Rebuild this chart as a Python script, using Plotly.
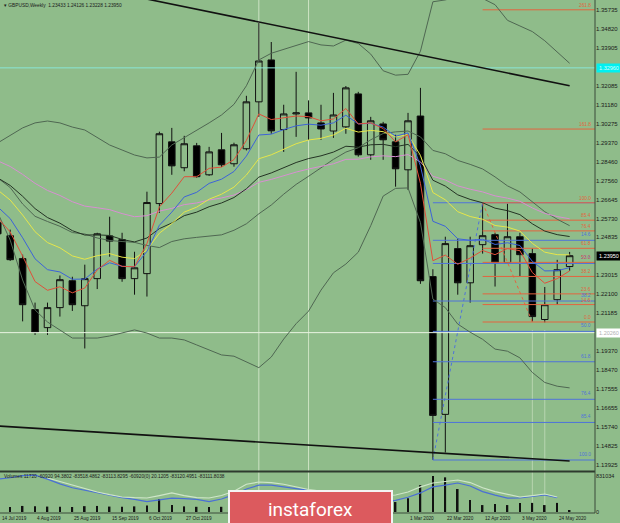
import pandas as pd
import plotly.graph_objects as go

BG = "#8fbc8a"
FONT = "Liberation Sans, Arial, sans-serif"

# ---------------- data ----------------
weeks = pd.date_range("2019-07-14", periods=47, freq="7D")

opens = [1.2553, 1.2491, 1.2381, 1.2137, 1.2050, 1.2146, 1.2275, 1.2155, 1.2285, 1.2490, 1.2472, 1.2285,
         1.2309, 1.2645, 1.2941, 1.2817, 1.2922, 1.2783, 1.2903, 1.2836, 1.2908, 1.3133, 1.3334, 1.3000,
         1.3075, 1.3080, 1.3032, 1.2993, 1.3013, 1.3171, 1.2879, 1.3027, 1.2941, 1.2807,
         1.3065, 1.2295, 1.1634, 1.2429, 1.2265, 1.2448, 1.2496, 1.2361, 1.2486, 1.2405, 1.2089, 1.2184, 1.2343]
highs = [1.2580, 1.2520, 1.2400, 1.2170, 1.2170, 1.2300, 1.2294, 1.2352, 1.2505, 1.2582, 1.2505, 1.2414,
         1.2702, 1.2990, 1.3008, 1.2970, 1.2936, 1.2917, 1.2984, 1.2937, 1.3162, 1.3511, 1.3420, 1.3119,
         1.3277, 1.3140, 1.3119, 1.3176, 1.3209, 1.3181, 1.3061, 1.3037, 1.2975, 1.3080,
         1.3200, 1.2330, 1.2486, 1.2477, 1.2486, 1.2649, 1.2505, 1.2644, 1.2505, 1.2430, 1.2245, 1.2375, 1.2413]
lows = [1.2385, 1.2370, 1.2080, 1.2015, 1.2015, 1.2103, 1.2130, 1.1950, 1.2235, 1.2390, 1.2270, 1.2208,
        1.2199, 1.2600, 1.2783, 1.2800, 1.2769, 1.2778, 1.2821, 1.2822, 1.2900, 1.3061, 1.2980, 1.2893,
        1.2965, 1.2950, 1.2951, 1.2960, 1.2980, 1.2870, 1.2855, 1.2855, 1.2726, 1.2711,
        1.2260, 1.1415, 1.1451, 1.2208, 1.2170, 1.2405, 1.2247, 1.2357, 1.2295, 1.2079, 1.2075, 1.2160, 1.2323]
closes = [1.2500, 1.2376, 1.2160, 1.2027, 1.2146, 1.2280, 1.2160, 1.2285, 1.2500, 1.2465, 1.2285, 1.2337,
          1.2650, 1.2980, 1.2826, 1.2932, 1.2774, 1.2893, 1.2831, 1.2927, 1.3133, 1.3329, 1.2994, 1.3075,
          1.3080, 1.3056, 1.3003, 1.3070, 1.3200, 1.2879, 1.3042, 1.2951, 1.2812, 1.3042,
          1.2275, 1.1629, 1.2453, 1.2265, 1.2443, 1.2491, 1.2361, 1.2486, 1.2400, 1.2103, 1.2160, 1.2328, 1.2395]

ma_red = [1.2576, 1.2509, 1.2393, 1.2271, 1.2229, 1.2246, 1.2217, 1.2240, 1.2327, 1.2373, 1.2344, 1.2342,
          1.2453, 1.2629, 1.2695, 1.2774, 1.2774, 1.2814, 1.2820, 1.2856, 1.2948, 1.3075, 1.3048, 1.3057,
          1.3065, 1.3062, 1.3042, 1.3051, 1.3101, 1.3027, 1.3032, 1.3005, 1.2941, 1.2975,
          1.2742, 1.2371, 1.2398, 1.2354, 1.2384, 1.2420, 1.2400, 1.2429, 1.2419, 1.2314, 1.2263, 1.2285, 1.2322]
ma_blue = [1.2629, 1.2573, 1.2481, 1.2380, 1.2328, 1.2317, 1.2282, 1.2283, 1.2331, 1.2361, 1.2344, 1.2342,
           1.2416, 1.2541, 1.2604, 1.2677, 1.2699, 1.2742, 1.2762, 1.2799, 1.2873, 1.2974, 1.2978, 1.3000,
           1.3018, 1.3026, 1.3021, 1.3032, 1.3069, 1.3027, 1.3030, 1.3012, 1.2968, 1.2984,
           1.2826, 1.2560, 1.2536, 1.2476, 1.2469, 1.2474, 1.2449, 1.2457, 1.2444, 1.2368, 1.2322, 1.2323, 1.2338]
ma_yellow = [1.2710, 1.2662, 1.2590, 1.2510, 1.2458, 1.2433, 1.2394, 1.2378, 1.2395, 1.2405, 1.2388, 1.2381,
             1.2423, 1.2503, 1.2549, 1.2604, 1.2628, 1.2666, 1.2690, 1.2724, 1.2782, 1.2860, 1.2879, 1.2907,
             1.2932, 1.2950, 1.2958, 1.2974, 1.3006, 1.2988, 1.2996, 1.2990, 1.2965, 1.2976,
             1.2876, 1.2698, 1.2663, 1.2606, 1.2583, 1.2570, 1.2540, 1.2532, 1.2513, 1.2454, 1.2412, 1.2400, 1.2399]
ma_dark = [1.2768, 1.2732, 1.2680, 1.2621, 1.2578, 1.2551, 1.2515, 1.2494, 1.2495, 1.2492, 1.2473, 1.2461,
           1.2480, 1.2525, 1.2552, 1.2587, 1.2604, 1.2630, 1.2648, 1.2674, 1.2716, 1.2772, 1.2792, 1.2818,
           1.2842, 1.2861, 1.2874, 1.2892, 1.2920, 1.2916, 1.2927, 1.2929, 1.2918, 1.2929,
           1.2870, 1.2757, 1.2729, 1.2687, 1.2665, 1.2649, 1.2623, 1.2611, 1.2592, 1.2548, 1.2513, 1.2496, 1.2487]
ma_pink = [1.2850, 1.2823, 1.2785, 1.2742, 1.2708, 1.2684, 1.2654, 1.2633, 1.2625, 1.2616, 1.2597, 1.2582,
           1.2587, 1.2609, 1.2622, 1.2640, 1.2648, 1.2662, 1.2672, 1.2686, 1.2712, 1.2747, 1.2761, 1.2779,
           1.2796, 1.2811, 1.2822, 1.2836, 1.2857, 1.2858, 1.2869, 1.2874, 1.2870, 1.2880,
           1.2845, 1.2776, 1.2758, 1.2730, 1.2714, 1.2701, 1.2682, 1.2671, 1.2656, 1.2624, 1.2598, 1.2583, 1.2572]

band_upper = [1.2936, 1.2974, 1.3008, 1.3032, 1.3041, 1.3032, 1.3012, 1.2998, 1.2960, 1.2926, 1.2902, 1.2878,
              1.2864, 1.2868, 1.2926, 1.2960, 1.2998, 1.3032, 1.3070,
              1.3121, 1.3210, 1.3334, 1.3366, 1.3385, 1.3404, 1.3422, 1.3406, 1.3401, 1.3429, 1.3413, 1.3362,
              1.3282, 1.3261, 1.3265, 1.3376, 1.3613, 1.3622, 1.3638, 1.3638, 1.3629, 1.3599, 1.3524, 1.3497,
              1.3470, 1.3426, 1.3370, 1.3318]
band_middle = [1.2768, 1.2722, 1.2643, 1.2584, 1.2559, 1.2536, 1.2506, 1.2499, 1.2480, 1.2468, 1.2463, 1.2459,
               1.2444, 1.2434, 1.2463, 1.2476, 1.2483, 1.2488, 1.2495,
               1.2517, 1.2548, 1.2596, 1.2638, 1.2690, 1.2737, 1.2776, 1.2818, 1.2857, 1.2892, 1.2913, 1.2951,
               1.2981, 1.2989, 1.2993, 1.2965, 1.2900, 1.2884, 1.2852, 1.2833, 1.2811, 1.2773, 1.2730, 1.2701,
               1.2652, 1.2606, 1.2570, 1.2539]
band_lower = [1.2600, 1.2470, 1.2278, 1.2135, 1.2077, 1.2039, 1.2000, 1.2000, 1.2000, 1.2010, 1.2024, 1.2039,
              1.2024, 1.2000, 1.2000, 1.1991, 1.1967, 1.1943, 1.1919,
              1.1913, 1.1887, 1.1858, 1.1909, 1.1995, 1.2069, 1.2129, 1.2230, 1.2313, 1.2355, 1.2412, 1.2539,
              1.2681, 1.2718, 1.2720, 1.2554, 1.2187, 1.2146, 1.2067, 1.2028, 1.1994, 1.1947, 1.1937, 1.1905,
              1.1835, 1.1787, 1.1769, 1.1761]

volumes = [120000, 115000, 140000, 135000, 125000, 120000, 115000, 135000, 140000, 125000, 120000, 130000,
           150000, 300000, 160000, 130000, 120000, 115000, 120000, 110000, 150000, 230000, 180000, 90000,
           110000, 140000, 130000, 120000, 150000, 140000, 130000, 115000, 230000, 320000,
           620000, 831034, 800000, 530000, 275000, 160000, 185000, 160000, 210000, 210000, 160000, 210000, 30000]
vol_line_blue = [760000, 790000, 840000, 850000, 760000, 650000, 560000, 500000, 450000, 390000, 330000, 290000,
                 240000, 280000, 320000, 310000, 290000, 240000, 300000, 400000, 530000, 620000, 620000, 580000,
                 540000, 500000, 440000, 380000, 320000, 260000, 230000, 230000, 270000, 340000,
                 440000, 580000, 620000, 669000, 600000, 470000, 390000, 320000, 323000, 360000, 392000, 330000]
vol_line_pale = [785000, 700000, 620000, 540000, 462000, 400000, 346000, 330000,
                 323000, 380000, 439000, 380000, 330000, 323000, 380000, 480000, 640000, 692000, 680000, 640000,
                 577000, 520000, 480000, 440000, 400000, 360000, 340000, 360000, 392000, 462000,
                 580000, 669000, 700000, 739000, 680000, 560000, 470000, 400000, 346000, 380000, 415000, 346000]

price_ticks = [1.35735, 1.34820, 1.33905, 1.32085, 1.31180, 1.30275, 1.29370, 1.28460, 1.27560, 1.26645,
               1.25730, 1.24835, 1.23015, 1.22100, 1.21185, 1.19370, 1.18470, 1.17555, 1.16655, 1.15740,
               1.14825, 1.13925]

fib_ratios = [0.0, 14.6, 23.6, 38.2, 50.0, 61.8, 76.4, 85.4, 100.0, 161.8, 261.8]
red_fib = {"start": "2020-04-12", "end": "2020-05-10", "p100": 1.2649, "p0": 1.2077}
blue_fib = {"start": "2020-03-15", "end": "2020-04-12", "p100": 1.1415, "p0": 1.2649}

upper_trend_dates = ["2019-10-06", "2020-05-31"]
upper_trend_prices = [1.3626, 1.3210]
lower_trend_dates = ["2019-07-14", "2020-05-31"]
lower_trend_prices = [1.1578, 1.1410]

cyan_level = 1.3296
white_level = 1.2026
last_price = 1.2395
marker_weeks = ["2019-12-08", "2020-01-05"]
lower_marker_weeks = ["2020-05-10", "2020-05-17"]

date_labels = [("2019-07-14", "14 Jul 2019"), ("2019-08-04", "4 Aug 2019"), ("2019-08-25", "25 Aug 2019"),
               ("2019-09-15", "15 Sep 2019"), ("2019-10-06", "6 Oct 2019"), ("2019-10-27", "27 Oct 2019"),
               ("2020-03-01", "1 Mar 2020"), ("2020-03-22", "22 Mar 2020"), ("2020-04-12", "12 Apr 2020"),
               ("2020-05-03", "3 May 2020"), ("2020-05-24", "24 May 2020")]

header_text = "GBPUSD,Weekly  1.23433 1.24126 1.23228 1.23950"
volume_text = "Volumes 11720 -60920 94.3802 -83518.4862 -83113.8295 -60920(0) 20.1205 -83120.4951 -83111.8038"

# ---------------- layout geometry ----------------
PW, PH = 595.0, 513.0          # plot area in px
def py(v):                      # px (from top) -> paper y
    return (PH - v) / PH
def pxx(v):
    return v / PW

base = pd.Timestamp("2020-03-01")
x_range = [base + pd.Timedelta(days=-32.82 * 7), base + pd.Timedelta(days=15.04 * 7)]
far_right = base + pd.Timedelta(days=20 * 7)

fig = go.Figure()

# horizontal reference lines
for lvl, col in [(cyan_level, "#8ae6d6"), (white_level, "#e9f3e2")]:
    fig.add_trace(go.Scatter(x=[x_range[0], far_right], y=[lvl, lvl], mode="lines",
                             line=dict(color=col, width=1), hoverinfo="skip"))

# fib levels (background)
def fib_price(f, r):
    return f["p0"] + (f["p100"] - f["p0"]) * r / 100.0

for f, col, ratios in [(blue_fib, "#4f73d9", fib_ratios[:9]), (red_fib, "#e3643f", fib_ratios)]:
    for r in ratios:
        p = fib_price(f, r)
        fig.add_trace(go.Scatter(x=[f["start"], far_right], y=[p, p], mode="lines",
                                 line=dict(color=col, width=1), hoverinfo="skip"))
    fig.add_trace(go.Scatter(x=[f["start"], f["end"]], y=[f["p100"], f["p0"]], mode="lines",
                             line=dict(color=col, width=1, dash="dot"), hoverinfo="skip"))

# Bollinger bands
for arr in (band_upper, band_middle, band_lower):
    fig.add_trace(go.Scatter(x=weeks, y=arr, mode="lines", line=dict(color="#4f6752", width=1),
                             hoverinfo="skip"))
# moving averages
for arr, col in [(ma_pink, "#d88fd2"), (ma_dark, "#243324"), (ma_yellow, "#e6e64a"),
                 (ma_blue, "#3d63d8"), (ma_red, "#e0503a")]:
    fig.add_trace(go.Scatter(x=weeks, y=arr, mode="lines", line=dict(color=col, width=1),
                             hoverinfo="skip"))

# candles
fig.add_trace(go.Candlestick(x=weeks, open=opens, high=highs, low=lows, close=closes,
                             increasing=dict(line=dict(color="#111111", width=1), fillcolor=BG),
                             decreasing=dict(line=dict(color="#111111", width=1), fillcolor="#000000"),
                             whiskerwidth=0, hoverinfo="skip"))

# trend lines
for d, p in [(upper_trend_dates, upper_trend_prices), (lower_trend_dates, lower_trend_prices)]:
    fig.add_trace(go.Scatter(x=d, y=p, mode="lines", line=dict(color="#111111", width=1.6),
                             hoverinfo="skip"))

# volume pane
fig.add_trace(go.Bar(x=weeks, y=volumes, marker=dict(color="#111111", line=dict(width=0)),
                     width=86400000 * 0.9, yaxis="y2", hoverinfo="skip"))
fig.add_trace(go.Scatter(x=weeks[:len(vol_line_blue)], y=vol_line_blue, mode="lines",
                         line=dict(color="#4a6fd6", width=1.2), yaxis="y2", hoverinfo="skip"))
fig.add_trace(go.Scatter(x=weeks[4:4 + len(vol_line_pale)], y=vol_line_pale, mode="lines",
                         line=dict(color="#cfe6c9", width=1.2), yaxis="y2", hoverinfo="skip"))

# ---------------- annotations ----------------
ann = []
for f, col, ratios, ys in [(blue_fib, "#4f73d9", fib_ratios[1:9], 1), (red_fib, "#e3643f", fib_ratios, 0)]:
    for r in ratios:
        ann.append(dict(x=pxx(593), xref="paper", y=fib_price(f, r), yref="y", text=f"{r:.1f}",
                        showarrow=False, xanchor="right", yanchor="bottom", yshift=ys,
                        font=dict(size=4.8, color=col, family=FONT)))

x_lo = x_range[0]
span = (x_range[1] - x_range[0])
for d, t in date_labels:
    frac = (pd.Timestamp(d) - x_lo) / span
    ann.append(dict(x=max(frac, 0.0), xref="paper", y=py(519), yref="paper", text=t, showarrow=False,
                    xanchor="left", yanchor="middle", font=dict(size=4.7, color="#1a1a1a", family=FONT)))

ann.append(dict(x=pxx(2), xref="paper", y=py(5), yref="paper", text="▾ " + header_text, showarrow=False,
                xanchor="left", yanchor="middle", font=dict(size=4.8, color="#1a1a1a", family=FONT)))
ann.append(dict(x=pxx(2), xref="paper", y=py(476), yref="paper", text=volume_text, showarrow=False,
                xanchor="left", yanchor="middle", font=dict(size=4.8, color="#1a1a1a", family=FONT)))

# price boxes at the right
for lvl, bg, fg, txt in [(cyan_level, "#00f0f0", "#d8ffff", "1.32960"),
                         (last_price, "#000000", "#ffffff", "1.23950"),
                         (white_level, "#ffffff", "#b0b0b0", "1.20260")]:
    ann.append(dict(x=pxx(596), xref="paper", y=lvl, yref="y", text=txt, showarrow=False,
                    xanchor="left", yanchor="middle", bgcolor=bg, borderpad=1, width=22,
                    font=dict(size=5.5, color=fg, family=FONT)))

# logo
ann.append(dict(x=pxx(310.5), xref="paper", y=py(509), yref="paper", text="instaforex", showarrow=False,
                xanchor="center", yanchor="middle", bgcolor="#dc5a5e", bordercolor="#f4f4f4",
                borderwidth=2, borderpad=0, width=161, height=34,
                font=dict(size=19, color="#ffffff", family="Roboto, Open Sans, sans-serif")))

shapes = [
    dict(type="line", xref="paper", yref="paper", x0=0, x1=1, y0=py(471.5), y1=py(471.5),
         line=dict(color="#2e3a2e", width=2)),
    dict(type="line", xref="paper", yref="paper", x0=1, x1=1, y0=0, y1=1,
         line=dict(color="#3a4a3a", width=1)),
    dict(type="line", xref="paper", yref="paper", x0=0, x1=1, y0=0, y1=0,
         line=dict(color="#3a4a3a", width=1)),
]
for d in marker_weeks:
    shapes.append(dict(type="line", xref="x", yref="paper", x0=d, x1=d, y0=0, y1=1, layer="below",
                       line=dict(color="rgba(225,240,215,0.75)", width=1)))
for d in lower_marker_weeks:
    shapes.append(dict(type="line", xref="x", yref="paper", x0=d, x1=d, y0=0, y1=py(330), layer="below",
                       line=dict(color="rgba(225,240,215,0.5)", width=1)))

fig.update_layout(
    width=620, height=523,
    margin=dict(l=0, r=25, t=0, b=10, pad=0),
    paper_bgcolor=BG, plot_bgcolor=BG,
    showlegend=False, boxgap=0.25,
    font=dict(family=FONT, size=6, color="#1a1a1a"),
    xaxis=dict(type="date", range=x_range, showticklabels=False, showgrid=False, zeroline=False,
               rangeslider=dict(visible=False), anchor="y2", fixedrange=True),
    yaxis=dict(domain=[py(470), 1], range=[1.36215 - 0.00047966 * 470, 1.36215], side="right",
               tickvals=price_ticks, ticktext=[f"{v:.5f}" for v in price_ticks],
               tickfont=dict(size=6, color="#1a1a1a", family=FONT), automargin=False,
               showgrid=False, zeroline=False, ticks="", fixedrange=True),
    yaxis2=dict(domain=[0, py(473)], range=[-23084, 900276], side="right",
                tickvals=[0, 831034], ticktext=["0", "831034"], automargin=False,
                tickfont=dict(size=5.5, color="#1a1a1a", family=FONT),
                showgrid=False, zeroline=False, ticks="", fixedrange=True),
    annotations=ann, shapes=shapes,
)

fig.write_html("out.html", config={"displayModeBar": False},
               post_script="document.body.style.margin='0';document.body.style.padding='0';"
                           "document.body.style.overflow='hidden';")
